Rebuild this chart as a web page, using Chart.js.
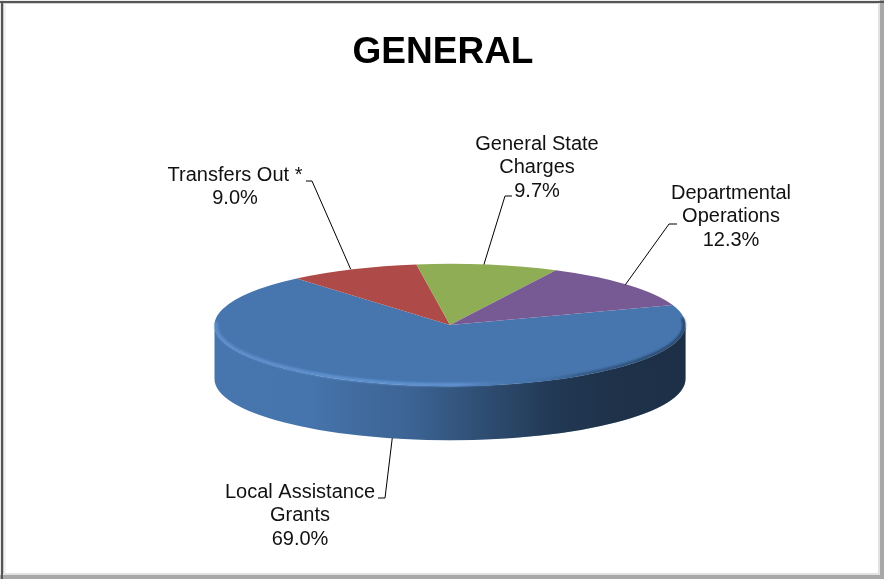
<!DOCTYPE html>
<html>
<head>
<meta charset="utf-8">
<title>GENERAL</title>
<script src="https://cdn.jsdelivr.net/npm/chart.js@4/dist/chart.umd.min.js"></script>
<style>
  html, body { margin: 0; padding: 0; background: #fff; overflow: hidden; }
  canvas { display: block; }
</style>
</head>
<body>
<canvas id="pie" width="884" height="579"></canvas>
<script>
const chartTitle = "GENERAL";
const categories = [
  ["Local Assistance", "Grants"],
  ["Transfers Out *"],
  ["General State", "Charges"],
  ["Departmental", "Operations"]
];
const shares = [69.0, 9.0, 9.7, 12.3];
const sliceColors = ["#4776af", "#ae4a47", "#8fad54", "#775a93"];

// layout of the flattened pie on the page
const pieX = 450, pieY = 325, flatten = 0.26, depth = 54;
const font = '20px "Liberation Sans", Arial, sans-serif';
const lineGap = 23.7;

// where each label sits and how its leader line leaves it
const labelSpots = [
  { x: 300, y: 492, elbow: [385, 498], tick: [378, 498], nudge: 4, low: true },
  { x: 235, y: 175, elbow: [312, 181], tick: [306, 181], nudge: -2 },
  { x: 537, y: 144, elbow: [505, 196], tick: [512, 196], nudge: -4 },
  { x: 731, y: 193, elbow: [669, 224], tick: [677, 224], nudge: -2 }
];

// the doughnut controller centres on the chart area, so move it over to pieX
const pie3d = {
  id: "pie3d",
  beforeDraw(chart) {
    const { ctx, width: w, height: h } = chart;
    ctx.save();
    ctx.fillStyle = "#fff";
    ctx.fillRect(0, 0, w, h);
    // picture frame: dark top and left, soft grey right and bottom
    const soft = (x, y, rw, rh, c) => { ctx.fillStyle = c; ctx.fillRect(x, y, rw, rh); };
    soft(0, 0, w, 4, "#eee"); soft(0, 0, 5, h, "#e8e8e8");
    soft(3, 3, w - 3, 1, "#d4d4d4"); soft(3, 3, 1, h, "#c8c8c8"); soft(4, 4, 2, h, "#f3f3f3");
    soft(w - 6, 0, 6, h, "#e2e2e2"); soft(0, h - 6, w, 6, "#e2e2e2");
    soft(w - 4, 0, 4, h, "#a8a8a8"); soft(0, h - 4, w, 4, "#a8a8a8");
    soft(0, 1, w, 2, "#555"); soft(1, 1, 2, h, "#555");
    ctx.restore();
  },
  beforeDatasetsDraw(chart) {
    const { ctx } = chart;
    const arcs = chart.getDatasetMeta(0).data;
    ctx.save();
    arcs.forEach((arc, i) => {
      const rx = arc.outerRadius, ry = rx * flatten;
      const from = Math.max(arc.startAngle, 0), to = Math.min(arc.endAngle, Math.PI);
      if (from >= to) return;
      const wall = new Path2D();
      wall.ellipse(pieX, pieY, rx, ry, 0, from, to);
      wall.ellipse(pieX, pieY + depth, rx, ry, 0, to, from, true);
      wall.closePath();
      ctx.fillStyle = sliceColors[i];
      ctx.fill(wall);
      const shade = ctx.createLinearGradient(pieX - rx, 0, pieX + rx, 0);
      shade.addColorStop(0, "rgba(0,0,0,0)");
      shade.addColorStop(0.2, "rgba(0,0,0,0.02)");
      shade.addColorStop(0.42, "rgba(0,0,0,0.16)");
      shade.addColorStop(0.55, "rgba(0,0,0,0.32)");
      shade.addColorStop(0.72, "rgba(0,0,0,0.52)");
      shade.addColorStop(0.85, "rgba(0,0,0,0.58)");
      shade.addColorStop(1, "rgba(0,0,0,0.6)");
      ctx.fillStyle = shade;
      ctx.fill(wall);
    });
    ctx.restore();
    ctx.save();
    ctx.translate(pieX, pieY);
    ctx.scale(1, flatten);
    ctx.translate(-arcs[0].x, -arcs[0].y);
  },
  afterDatasetsDraw(chart) {
    const { ctx } = chart;
    ctx.restore();
    const arcs = chart.getDatasetMeta(0).data;
    const rx = arcs[0].outerRadius, ry = rx * flatten;

    // bevel along the front rim of the top face, slightly blurred
    ctx.save();
    const rim = ctx.createLinearGradient(pieX - rx, 0, pieX + rx, 0);
    rim.addColorStop(0, "rgba(104,152,214,0.75)");
    rim.addColorStop(0.3, "rgba(104,156,220,0.85)");
    rim.addColorStop(0.52, "rgba(104,156,220,0.85)");
    rim.addColorStop(0.66, "rgba(70,110,160,0.15)");
    rim.addColorStop(0.78, "rgba(25,45,70,0.45)");
    rim.addColorStop(1, "rgba(25,45,70,0.7)");
    ctx.filter = "blur(0.8px)";
    ctx.strokeStyle = rim;
    ctx.lineWidth = 3;
    ctx.beginPath();
    ctx.ellipse(pieX, pieY, rx - 1.5, ry - 1.5, 0, -0.12, Math.PI + 0.05);
    ctx.stroke();
    ctx.restore();

    // labels and leader lines
    ctx.save();
    ctx.font = font;
    ctx.textAlign = "center";
    ctx.textBaseline = "middle";
    ctx.fillStyle = "#111";
    ctx.strokeStyle = "#000";
    ctx.lineWidth = 1;
    arcs.forEach((arc, i) => {
      const spot = labelSpots[i];
      const mid = (arc.startAngle + arc.endAngle) / 2;
      const ex = pieX + rx * Math.cos(mid) + spot.nudge;
      const ey = pieY + ry * Math.sin(mid) + (spot.low ? depth : 0);
      ctx.beginPath();
      ctx.moveTo(spot.tick[0], spot.tick[1]);
      ctx.lineTo(spot.elbow[0], spot.elbow[1]);
      ctx.lineTo(ex, ey);
      ctx.stroke();
      const lines = [...categories[i], shares[i].toFixed(1) + "%"];
      lines.forEach((t, n) => ctx.fillText(t, spot.x, spot.y + n * lineGap));
    });
    ctx.restore();
  }
};

new Chart(document.getElementById("pie"), {
  type: "pie",
  data: {
    labels: categories.map(c => c.join(" ")),
    datasets: [{ data: shares, backgroundColor: sliceColors, borderWidth: 0 }]
  },
  options: {
    responsive: false,
    animation: false,
    devicePixelRatio: 1,
    rotation: 71,
    layout: { padding: { top: 0, bottom: 19, left: 2, right: 0 } },
    plugins: {
      legend: { display: false },
      tooltip: { enabled: false },
      title: {
        display: true,
        text: chartTitle,
        color: "#000",
        font: { family: '"Liberation Sans", Arial, sans-serif', size: 37, weight: "bold", lineHeight: 1.2 },
        padding: { top: 31, bottom: 13.6 }
      }
    }
  },
  plugins: [pie3d]
});
</script>
</body>
</html>
